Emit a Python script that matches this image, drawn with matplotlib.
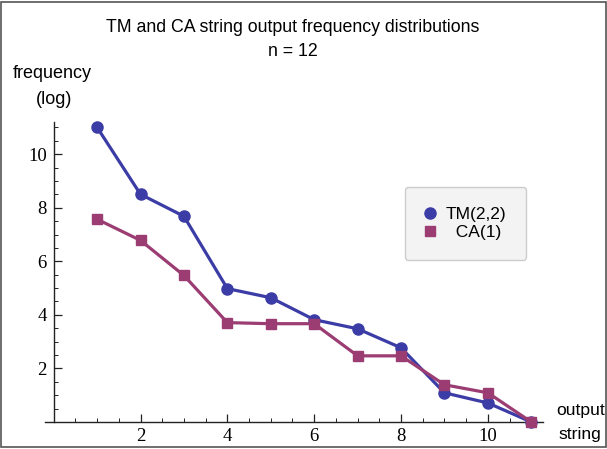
import matplotlib
matplotlib.use("Agg")
import matplotlib.pyplot as plt
from matplotlib.ticker import MultipleLocator
from matplotlib.patches import Rectangle

x = [1, 2, 3, 4, 5, 6, 7, 8, 9, 10, 11]
tm = [11.0, 8.5, 7.68, 4.98, 4.64, 3.82, 3.48, 2.77, 1.09, 0.71, 0.0]
ca = [7.57, 6.78, 5.47, 3.71, 3.67, 3.67, 2.47, 2.47, 1.39, 1.09, 0.0]
xticks = [2, 4, 6, 8, 10]
yticks = [2, 4, 6, 8, 10]

tm_color = "#3c3ca6"
ca_color = "#9b3d72"

fig = plt.figure(figsize=(6.07, 4.49), dpi=100)
fig.patches.append(Rectangle((0.002, 0.004), 0.996, 0.992, transform=fig.transFigure,
                             fill=False, edgecolor="#555555", linewidth=1.2))

W, H = 607, 449
x0p, x1p = 45, 543
y0p, y1p = 422, 122
ax = fig.add_axes([x0p / W, (H - y0p) / H, (x1p - x0p) / W, (y0p - y1p) / H])
ax.set_xlim(-0.2, 11.27)
ax.set_ylim(0, 11.2)

ax.plot(x, tm, color=tm_color, lw=2.3, marker="o", ms=8, clip_on=False, zorder=3,
        label="TM(2,2)")
ax.plot(x, ca, color=ca_color, lw=2.3, marker="s", ms=6.8, clip_on=False, zorder=3,
        label="  CA(1)")

for s in ["top", "right"]:
    ax.spines[s].set_visible(False)
ax.spines["left"].set_position(("data", 0))
ax.spines["bottom"].set_position(("data", 0))
for s in ["left", "bottom"]:
    ax.spines[s].set_linewidth(1.0)
    ax.spines[s].set_color("#222222")

ax.set_xticks(xticks)
ax.set_yticks(yticks)
ax.xaxis.set_minor_locator(MultipleLocator(0.5))
ax.yaxis.set_minor_locator(MultipleLocator(0.5))
ax.tick_params(which="major", direction="in", length=6, width=0.9, color="#222222")
ax.tick_params(which="minor", direction="in", length=3, width=0.7, color="#222222")
ax.tick_params(axis="x", which="both", top=False)
ax.tick_params(axis="y", which="both", right=False)
for lab in ax.get_xticklabels() + ax.get_yticklabels():
    lab.set_fontfamily("Liberation Serif")
    lab.set_fontsize(13.5)
ax.tick_params(axis="x", pad=4)
ax.tick_params(axis="y", pad=5)

sans = "Liberation Sans"
fs = 13
fig.text(293 / W, 1 - 27 / H, "TM and CA string output frequency distributions",
         ha="center", va="center", fontsize=12.8, family=sans)
fig.text(293 / W, 1 - 51 / H, "n = 12", ha="center", va="center", fontsize=12.8, family=sans)
fig.text(52 / W, 1 - 73 / H, "frequency", ha="center", va="center", fontsize=fs, family=sans)
fig.text(54 / W, 1 - 100 / H, "(log)", ha="center", va="center", fontsize=fs, family=sans)
fig.text(581 / W, 1 - 410 / H, "output", ha="center", va="center", fontsize=12.6, family=sans)
fig.text(580 / W, 1 - 434 / H, "string", ha="center", va="center", fontsize=12.6, family=sans)

leg = ax.legend(loc="upper left", bbox_to_anchor=((405 - x0p) / (x1p - x0p), 1 - (187 - y1p) / (y0p - y1p)),
                frameon=True, fancybox=True, prop={"family": sans, "size": 12.5},
                handlelength=0.6, handletextpad=0.6, borderpad=1.15, labelspacing=0.15,
                borderaxespad=0)
for h in leg.legend_handles:
    h.set_linestyle("none")
fr = leg.get_frame()
fr.set_facecolor("#f3f3f3")
fr.set_edgecolor("#cccccc")
fr.set_alpha(1)
fr.set_linewidth(1.0)

fig.savefig("out.png", dpi=100)
